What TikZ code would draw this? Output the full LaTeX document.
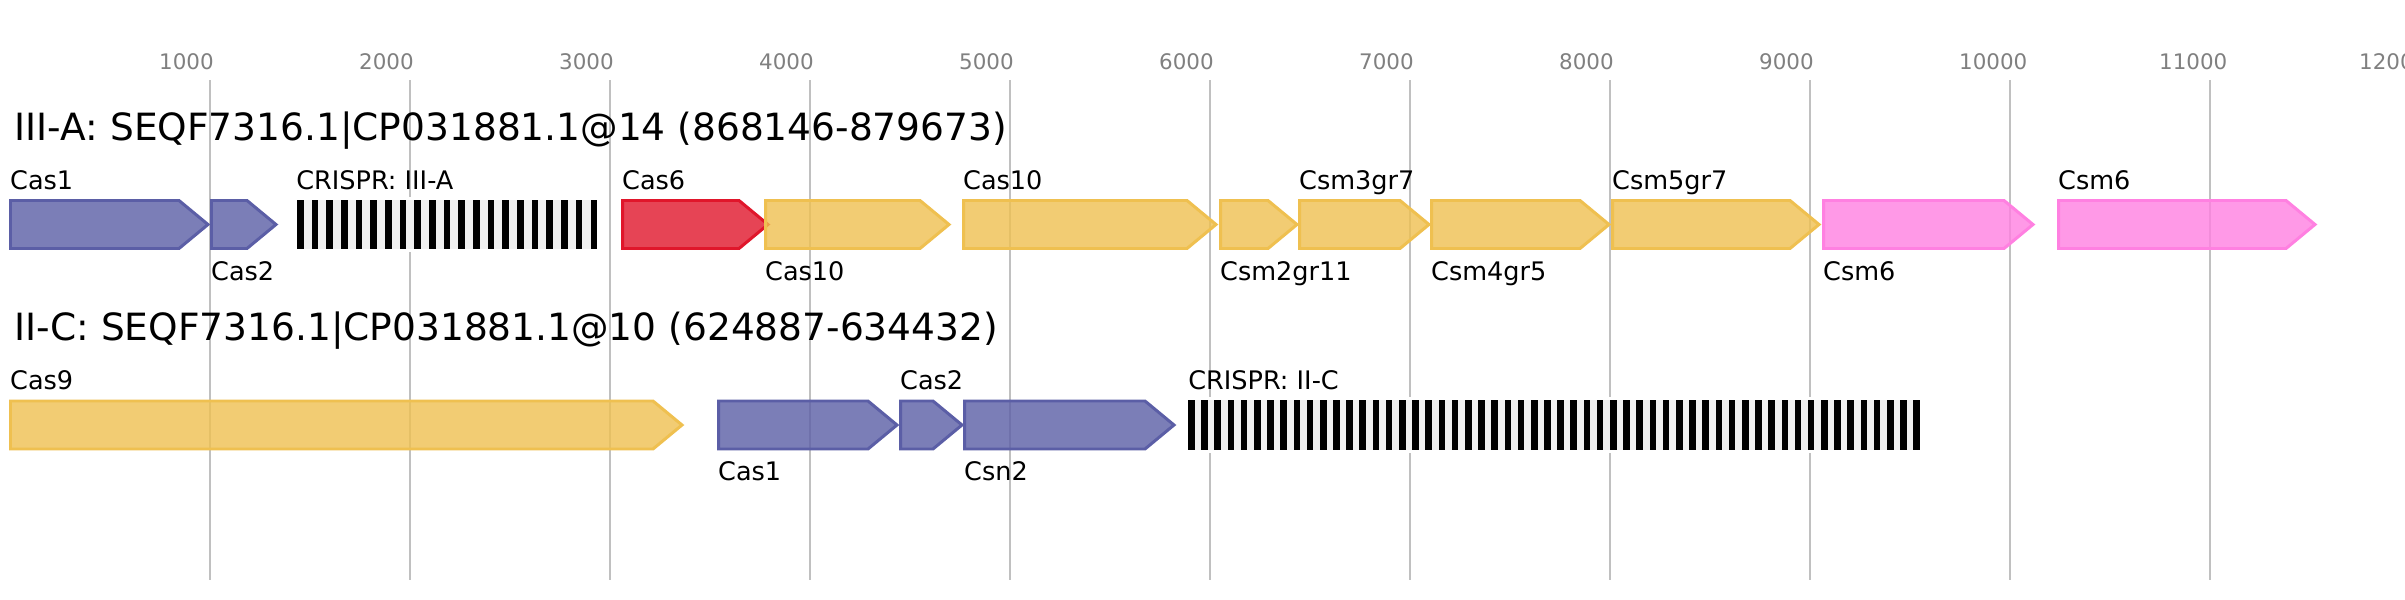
\documentclass[tikz,border=0pt]{standalone}
\usepackage{fontspec}
\setmainfont{DejaVu Sans}
\usepackage{xcolor}
\definecolor{casblue}{HTML}{5B5EA6}
\definecolor{casred}{HTML}{E0162B}
\definecolor{casyellow}{HTML}{EFC050}
\definecolor{caspink}{HTML}{FF80E1}
\definecolor{gridgray}{HTML}{C0C0C0}
\definecolor{tickgray}{HTML}{808080}
\definecolor{arraybg}{HTML}{F0F0F0}

\begin{document}
\begin{tikzpicture}[x=0.01cm,y=-0.01cm,
    gene/.style={draw=#1,fill=#1,fill opacity=0.8,line width=0.85pt,line join=miter},
    gridline/.style={draw=gridgray,line width=0.57pt},
    ticklabel/.style={anchor=base west,inner sep=0pt,text=tickgray,font=\fontsize{6.09}{7}\selectfont},
    title/.style={anchor=base west,inner sep=0pt,font=\fontsize{10.67}{12}\selectfont},
    genelabel/.style={anchor=base west,inner sep=0pt,font=\fontsize{7.26}{8}\selectfont}]
      \useasboundingbox (0,0) rectangle (2405,600);
      \fill[white] (0,0) rectangle (2405,600);
      \foreach \k in {1,...,11}
        \draw[gridline] ({10+200*\k},80) -- ({10+200*\k},580);
      \foreach \k in {1,...,12}
        \node[ticklabel] (tick\k) at ({10+200*\k-51.5},70) {\k000};
      \node[title] (titleA) at (14,140) {III-A: SEQF7316.1|CP031881.1@14 (868146-879673)};
      \node[title] (titleC) at (14,340.5) {II-C: SEQF7316.1|CP031881.1@10 (624887-634432)};
      \foreach \xs/\xt/\c in {10.5/208/casblue, 211.5/276/casblue, 622.5/768/casred,
          765.5/949/casyellow, 963.5/1216/casyellow, 1220.5/1297/casyellow,
          1299.5/1429/casyellow, 1431.5/1609/casyellow, 1612.5/1819/casyellow,
          1823.5/2033/caspink, 2058.5/2315/caspink}
        \draw[gene=\c] (\xs,200.5) -- ({\xt-29},200.5) -- (\xt,224.5) -- ({\xt-29},248.5) -- (\xs,248.5) -- cycle;
      \foreach \xs/\xt/\c in {10.5/682/casyellow, 718.5/897/casblue, 900.5/962/casblue, 964.5/1174/casblue}
        \draw[gene=\c] (\xs,401) -- ({\xt-29},401) -- (\xt,425) -- ({\xt-29},449) -- (\xs,449) -- cycle;
      \fill[white] (294,197) rectangle (600,252);
      \fill[arraybg] (297,200) rectangle (597,249);
      \foreach \i in {0,...,20}
        \fill ({297+\i*14.675},200) rectangle ++(6.5,49);
      \fill[white] (1185,397) rectangle (1923,453);
      \fill[arraybg] (1188,400) rectangle (1920,450);
      \foreach \i in {0,...,55}
        \fill ({1188+\i*13.189},400) rectangle ++(6.6,50);
      \node[genelabel] (lCasA1) at (9.5,189.5) {Cas1};
      \node[genelabel] (lCasA2) at (210.5,280) {Cas2};
      \node[genelabel] (lArrA) at (295.6,189.5) {CRISPR: III-A};
      \node[genelabel] (lCasA6) at (621.5,189.5) {Cas6};
      \node[genelabel] (lCasA10a) at (764.5,280) {Cas10};
      \node[genelabel] (lCasA10b) at (962.5,189.5) {Cas10};
      \node[genelabel] (lCsmA2) at (1219.5,280) {Csm2gr11};
      \node[genelabel] (lCsmA3) at (1298.5,189.5) {Csm3gr7};
      \node[genelabel] (lCsmA4) at (1430.5,280) {Csm4gr5};
      \node[genelabel] (lCsmA5) at (1611.5,189.5) {Csm5gr7};
      \node[genelabel] (lCsmA6a) at (1822.5,280) {Csm6};
      \node[genelabel] (lCsmA6b) at (2057.5,189.5) {Csm6};
      \node[genelabel] (lCasC9) at (9.5,389.5) {Cas9};
      \node[genelabel] (lCasC1) at (717.5,480.5) {Cas1};
      \node[genelabel] (lCasC2) at (899.5,389.5) {Cas2};
      \node[genelabel] (lCsnC2) at (963.5,480.5) {Csn2};
      \node[genelabel] (lArrC) at (1187.6,389.5) {CRISPR: II-C};
\end{tikzpicture}
\end{document}
